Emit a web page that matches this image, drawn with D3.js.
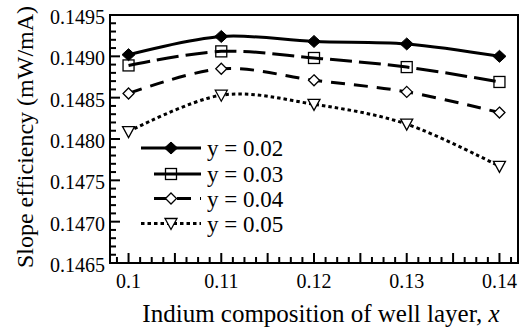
<!DOCTYPE html>
<html>
<head>
<meta charset="utf-8">
<script src="https://cdn.jsdelivr.net/npm/d3@7"></script>
<style>
  body { margin: 0; background: #fff; }
  svg { display: block; }
</style>
</head>
<body>
<svg id="chart" width="525" height="329" style="font-family: Liberation Serif"></svg>
<script>
// data
const xValues = [0.10, 0.11, 0.12, 0.13, 0.14];
const y002 = [0.14902, 0.14924, 0.14918, 0.14915, 0.14900];
const y003 = [0.14889, 0.14906, 0.14898, 0.14887, 0.14869];
const y004 = [0.14855, 0.14885, 0.14871, 0.14857, 0.14832];
const y005 = [0.14809, 0.14853, 0.14842, 0.14818, 0.14767];
const seriesNames = ["y = 0.02", "y = 0.03", "y = 0.04", "y = 0.05"];
const xTickLabels = [0.10, 0.11, 0.12, 0.13, 0.14];
const yTickLabels = [0.1465, 0.1470, 0.1475, 0.1480, 0.1485, 0.1490, 0.1495];

const FONT = "Liberation Serif";

const svg = d3.select("#chart");
const margin = { top: 15, right: 7, bottom: 66, left: 110 };
const width = 525 - margin.left - margin.right;
const height = 329 - margin.top - margin.bottom;

const x = d3.scaleLinear().domain([0.098, 0.142]).range([0, width]);
const y = d3.scaleLinear().domain([0.1465, 0.1495]).range([height, 0]);

const g = svg.append("g")
  .attr("transform", "translate(" + margin.left + "," + margin.top + ")");

// minor / major ticks, drawn inward
const xMinor = d3.range(0, 36).map(i => 0.09875 + i * 0.00125).filter(v => v > 0.0981 && v < 0.1419);
const yMinor = d3.range(0, 31).map(i => 0.1465 + i * 0.0001);

function isMult(v, step) { return Math.abs(v / step - Math.round(v / step)) < 1e-6; }

g.selectAll(".xtick").data(xMinor).enter().append("line")
  .attr("x1", d => x(d)).attr("x2", d => x(d))
  .attr("y1", height).attr("y2", d => height - (isMult(d, 0.005) ? 10 : 6))
  .attr("stroke", "#000").attr("stroke-width", 2);

g.selectAll(".ytick").data(yMinor).enter().append("line")
  .attr("y1", d => y(d)).attr("y2", d => y(d))
  .attr("x1", 0).attr("x2", d => (isMult(d, 0.0005) ? 10 : 6))
  .attr("stroke", "#000").attr("stroke-width", 2);

// frame
g.append("rect")
  .attr("width", width).attr("height", height)
  .attr("fill", "none").attr("stroke", "#000").attr("stroke-width", 2);

// tick labels
g.selectAll(".xl").data(xTickLabels).enter().append("text")
  .attr("x", d => x(d)).attr("y", height + 25)
  .attr("text-anchor", "middle").attr("font-size", 20).attr("font-family", FONT)
  .text(d => d3.format("")(+d.toFixed(2)));

g.selectAll(".yl").data(yTickLabels).enter().append("text")
  .attr("x", -5).attr("y", d => y(d) + 9)
  .attr("text-anchor", "end").attr("font-size", 20).attr("font-family", FONT)
  .text(d => d.toFixed(4));

// axis titles
svg.append("text")
  .attr("transform", "translate(33," + (margin.top + height / 2 - 2) + ") rotate(-90)")
  .attr("text-anchor", "middle").attr("font-size", 24).attr("font-family", FONT)
  .text("Slope efficiency (mW/mA)");

const xt = svg.append("text")
  .attr("x", 321).attr("y", 322)
  .attr("text-anchor", "middle").attr("font-size", 25).attr("font-family", FONT);
xt.append("tspan").text("Indium composition of well layer, ");
xt.append("tspan").attr("font-style", "italic").text("x");

// series
const series = [
  { name: seriesNames[0], values: y002, dash: null, marker: "diamondFilled" },
  { name: seriesNames[1], values: y003, dash: "22,7", marker: "square" },
  { name: seriesNames[2], values: y004, dash: "14,9", marker: "diamond" },
  { name: seriesNames[3], values: y005, dash: "3.5,3", marker: "triangle" }
];

const line = d3.line()
  .x(d => x(d[0])).y(d => y(d[1]))
  .curve(d3.curveCardinal.tension(0));

function drawMarker(sel, type) {
  if (type === "diamondFilled") {
    sel.append("path").attr("d", "M0,-6L6.5,0L0,6L-6.5,0Z").attr("fill", "#000").attr("stroke", "#000").attr("stroke-width", 1);
  } else if (type === "square") {
    sel.append("rect").attr("x", -5.5).attr("y", -5.5).attr("width", 11).attr("height", 11)
      .attr("fill", "none").attr("stroke", "#000").attr("stroke-width", 1.3);
  } else if (type === "diamond") {
    sel.append("path").attr("d", "M0,-5.5L5.5,0L0,5.5L-5.5,0Z").attr("fill", "#fff").attr("stroke", "#000").attr("stroke-width", 1.3);
  } else {
    sel.append("path").attr("d", "M-6,-5L6,-5L0,6Z").attr("fill", "#fff").attr("stroke", "#000").attr("stroke-width", 1.3);
  }
}

series.forEach(s => {
  const pts = xValues.map((v, i) => [v, s.values[i]]);
  g.append("path")
    .attr("d", line(pts))
    .attr("fill", "none").attr("stroke", "#000").attr("stroke-width", 3)
    .attr("stroke-dasharray", s.dash);
  pts.forEach(p => {
    const m = g.append("g").attr("transform", "translate(" + x(p[0]) + "," + y(p[1]) + ")");
    drawMarker(m, s.marker);
  });
});

// legend
const legendRows = [148, 174, 198.5, 223.5];
const legendStart = [141, 154, 154, 141];
series.forEach((s, i) => {
  const ly = legendRows[i];
  svg.append("line")
    .attr("x1", legendStart[i]).attr("x2", 201).attr("y1", ly).attr("y2", ly)
    .attr("stroke", "#000").attr("stroke-width", 3)
    .attr("stroke-dasharray", i === 1 ? null : s.dash);
  const m = svg.append("g").attr("transform", "translate(171," + ly + ")");
  drawMarker(m, s.marker);
  svg.append("text")
    .attr("x", 207).attr("y", ly + 8)
    .attr("font-size", 23).attr("font-family", FONT)
    .text(s.name);
});
</script>
</body>
</html>
